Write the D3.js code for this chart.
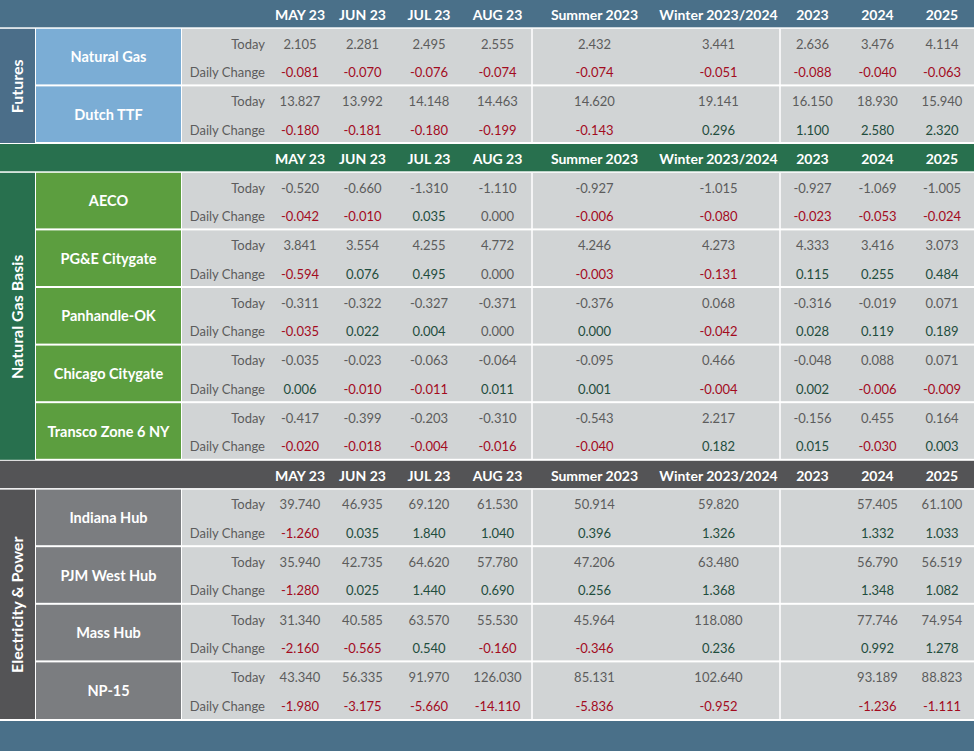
<!doctype html>
<html lang="en">
<head>
  <meta charset="utf-8">
  <title>Energy forward curves</title>
  <style>
    body { margin: 0; background: #fff; }
    svg { display: block; font-family: Lato, "Open Sans", sans-serif; }
    .head { font-weight: 700; font-size: 14px; fill: #fff; }
    .cat { font-weight: 700; font-size: 14.5px; fill: #fff; }
    .sec { font-weight: 700; font-size: 16px; fill: #fff; }
    .lab { font-size: 13px; fill: #5c5c5c; }
    .val { font-size: 13px; }
  </style>
</head>
<body>
  <script src="https://cdn.jsdelivr.net/npm/d3@7"></script>
  <script>

// column headers (same for each section)
var columns = ["MAY 23", "JUN 23", "JUL 23", "AUG 23", "Summer 2023", "Winter 2023/2024", "2023", "2024", "2025"];
var rowLabels = ["Today", "Daily Change"];
var sections = ["Futures", "Natural Gas Basis", "Electricity & Power"];

// Futures
var futuresHubs = ["Natural Gas", "Dutch TTF"];
var futuresToday = [
  [2.105, 2.281, 2.495, 2.555, 2.432, 3.441, 2.636, 3.476, 4.114],
  [13.827, 13.992, 14.148, 14.463, 14.620, 19.141, 16.150, 18.930, 15.940]
];
var futuresChange = [
  [-0.081, -0.070, -0.076, -0.074, -0.074, -0.051, -0.088, -0.040, -0.063],
  [-0.180, -0.181, -0.180, -0.199, -0.143, 0.296, 1.100, 2.580, 2.320]
];

// Natural gas basis
var basisHubs = ["AECO", "PG&E Citygate", "Panhandle-OK", "Chicago Citygate", "Transco Zone 6 NY"];
var basisToday = [
  [-0.520, -0.660, -1.310, -1.110, -0.927, -1.015, -0.927, -1.069, -1.005],
  [3.841, 3.554, 4.255, 4.772, 4.246, 4.273, 4.333, 3.416, 3.073],
  [-0.311, -0.322, -0.327, -0.371, -0.376, 0.068, -0.316, -0.019, 0.071],
  [-0.035, -0.023, -0.063, -0.064, -0.095, 0.466, -0.048, 0.088, 0.071],
  [-0.417, -0.399, -0.203, -0.310, -0.543, 2.217, -0.156, 0.455, 0.164]
];
var basisChange = [
  [-0.042, -0.010, 0.035, 0.000, -0.006, -0.080, -0.023, -0.053, -0.024],
  [-0.594, 0.076, 0.495, 0.000, -0.003, -0.131, 0.115, 0.255, 0.484],
  [-0.035, 0.022, 0.004, 0.000, 0.000, -0.042, 0.028, 0.119, 0.189],
  [0.006, -0.010, -0.011, 0.011, 0.001, -0.004, 0.002, -0.006, -0.009],
  [-0.020, -0.018, -0.004, -0.016, -0.040, 0.182, 0.015, -0.030, 0.003]
];

// Electricity & power (no 2023 calendar quote)
var powerHubs = ["Indiana Hub", "PJM West Hub", "Mass Hub", "NP-15"];
var powerToday = [
  [39.740, 46.935, 69.120, 61.530, 50.914, 59.820, null, 57.405, 61.100],
  [35.940, 42.735, 64.620, 57.780, 47.206, 63.480, null, 56.790, 56.519],
  [31.340, 40.585, 63.570, 55.530, 45.964, 118.080, null, 77.746, 74.954],
  [43.340, 56.335, 91.970, 126.030, 85.131, 102.640, null, 93.189, 88.823]
];
var powerChange = [
  [-1.260, 0.035, 1.840, 1.040, 0.396, 1.326, null, 1.332, 1.033],
  [-1.280, 0.025, 1.440, 0.690, 0.256, 1.368, null, 1.348, 1.082],
  [-2.160, -0.565, 0.540, -0.160, -0.346, 0.236, null, 0.992, 1.278],
  [-1.980, -3.175, -5.660, -14.110, -5.836, -0.952, null, -1.236, -1.111]
];

// unchanged cells shown in plain grey
var flatCells = [["AECO", "AUG 23"], ["PG&E Citygate", "AUG 23"], ["Panhandle-OK", "AUG 23"]];

// ---- layout ----
var W = 975, H = 751, tableW = 974;
var colWidths = [60, 65, 68, 69, 125, 123, 65, 65, 64];
var secColW = 35, catColW = 145, labelRight = 265, dataLeft = 182;

var theme = [
  {head: "#4a7089", side: "#4b6e89", cat: "#7badd5"},
  {head: "#28704e", side: "#28704e", cat: "#5c9e3f"},
  {head: "#545456", side: "#545456", cat: "#7b7d80"}
];
var bandColor = "#4a7089", cellColor = "#d1d4d5";
var red = "#a30b1e", green = "#1f4d3d", grey = "#5c5c5c";

var groups = [
  {hubs: futuresHubs, today: futuresToday, change: futuresChange},
  {hubs: basisHubs, today: basisToday, change: basisChange},
  {hubs: powerHubs, today: powerToday, change: powerChange}
];

// one unit = one text row; a header is one unit, a hub is two
var totalUnits = d3.sum(groups, function(g) { return 1 + g.hubs.length * 2; });
var y = d3.scaleLinear().domain([0, totalUnits]).range([0, 720]);

var edges = [270];
colWidths.forEach(function(w, i) { edges.push(edges[i] + w); });
var x = d3.scaleOrdinal().domain(columns)
  .range(columns.map(function(c, i) { return (edges[i] + edges[i + 1]) / 2; }));
var fmt = d3.format(".3f");

var svg = d3.select("body").append("svg")
  .attr("width", W).attr("height", H);

svg.append("rect").attr("width", W).attr("height", H).attr("fill", "#fff");

var unit = 0;
groups.forEach(function(g, s) {
  var t = theme[s];
  // header band
  svg.append("rect")
    .attr("x", 0).attr("y", y(unit)).attr("width", tableW)
    .attr("height", y(unit + 1) - y(unit) - 1.5)
    .attr("fill", t.head);
  svg.selectAll(null).data(columns).enter().append("text")
    .attr("class", "head")
    .attr("x", function(d) { return x(d); })
    .attr("y", (y(unit) + y(unit + 1)) / 2)
    .attr("text-anchor", "middle").attr("dy", "0.38em")
    .text(function(d) { return d; });
  unit += 1;

  var top = y(unit), bottom = y(unit + g.hubs.length * 2);
  // section side label
  svg.append("rect")
    .attr("x", 0).attr("y", top).attr("width", secColW)
    .attr("height", bottom - top - 1).attr("fill", t.side);
  svg.append("text")
    .attr("class", "sec")
    .attr("transform", "translate(" + (secColW / 2) + "," + ((top + bottom) / 2) + ") rotate(-90)")
    .attr("text-anchor", "middle").attr("dy", "0.36em")
    .text(sections[s]);

  g.hubs.forEach(function(hub, h) {
    var y0 = y(unit), y1 = y(unit + 2);
    var gap = (s === 2 && h === g.hubs.length - 1) ? 1 : 2;
    svg.append("rect")
      .attr("x", secColW + 1).attr("y", y0).attr("width", catColW)
      .attr("height", y1 - y0 - gap).attr("fill", t.cat);
    svg.append("rect")
      .attr("x", dataLeft).attr("y", y0).attr("width", tableW - dataLeft)
      .attr("height", y1 - y0 - gap).attr("fill", cellColor);
    svg.append("text")
      .attr("class", "cat")
      .attr("x", secColW + 1 + catColW / 2).attr("y", (y0 + y1 - gap) / 2)
      .attr("text-anchor", "middle").attr("dy", "0.38em")
      .text(hub);

    [g.today[h], g.change[h]].forEach(function(vals, r) {
      var cy = (y(unit + r) + y(unit + r + 1)) / 2 + (r === 0 ? 0.5 : 0);
      svg.append("text")
        .attr("class", "lab")
        .attr("x", labelRight).attr("y", cy)
        .attr("text-anchor", "end").attr("dy", "0.38em")
        .text(rowLabels[r]);
      svg.selectAll(null).data(vals.map(function(v, i) { return {v: v, col: columns[i]}; })
          .filter(function(d) { return d.v !== null; }))
        .enter().append("text")
        .attr("class", "val")
        .attr("x", function(d) { return x(d.col); })
        .attr("y", cy)
        .attr("text-anchor", "middle").attr("dy", "0.38em")
        .attr("fill", function(d) {
          if (r === 0) return grey;
          var flat = flatCells.some(function(f) { return f[0] === hub && f[1] === d.col; });
          if (flat) return grey;
          return d.v < 0 ? red : green;
        })
        .text(function(d) { return fmt(d.v).replace("−", "-"); });
    });
    unit += 2;
  });

  // white dividers between column groups
  [edges[4], edges[6]].forEach(function(ex) {
    svg.append("line")
      .attr("x1", ex).attr("x2", ex).attr("y1", top).attr("y2", bottom - 1)
      .attr("stroke", "#fff").attr("stroke-width", 1.5);
  });
});

// bottom band
svg.append("rect")
  .attr("x", 0).attr("y", 721).attr("width", tableW).attr("height", H - 721)
  .attr("fill", bandColor);

  </script>
</body>
</html>
